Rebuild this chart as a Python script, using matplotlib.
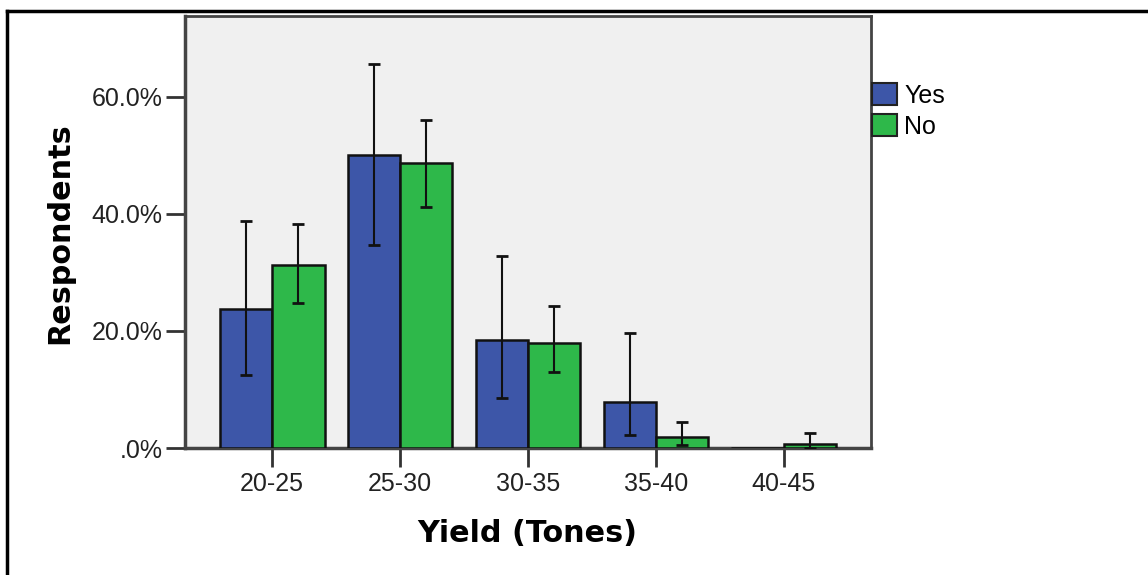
import numpy as np
import matplotlib
matplotlib.use("Agg")
import matplotlib.pyplot as plt
from matplotlib.lines import Line2D
from matplotlib.patches import Patch

# --- data ---
categories = ["20-25", "25-30", "30-35", "35-40", "40-45"]
yes_pct = [23.8, 50.1, 18.5, 7.9, 0.0]
no_pct = [31.2, 48.7, 18.0, 1.8, 0.6]
# error bar ends (low, high)
yes_low = [12.5, 34.7, 8.5, 2.2, np.nan]
yes_high = [38.8, 65.6, 32.8, 19.6, np.nan]
no_low = [24.7, 41.2, 12.9, 0.5, 0.0]
no_high = [38.3, 56.1, 24.2, 4.5, 2.5]
yticks = [0, 20, 40, 60]
ytick_labels = [".0%", "20.0%", "40.0%", "60.0%"]

BLUE = "#3d56a8"
GREEN = "#2eb84a"

plt.rcParams["font.family"] = ["Liberation Sans", "DejaVu Sans"]

fig = plt.figure(figsize=(11.48, 5.75), dpi=100)
ax = fig.add_axes([185 / 1148, 127 / 575, 686 / 1148, 432 / 575])
ax.set_facecolor("#f0f0f0")

x = np.arange(len(categories))
w = 0.41

yes_err = [np.array(yes_pct) - np.array(yes_low), np.array(yes_high) - np.array(yes_pct)]
no_err = [np.array(no_pct) - np.array(no_low), np.array(no_high) - np.array(no_pct)]

ax.bar(x - w / 2, yes_pct, w, color=BLUE, edgecolor="#111111", linewidth=1.8, zorder=3)
ax.bar(x + w / 2, no_pct, w, color=GREEN, edgecolor="#111111", linewidth=1.8, zorder=3)
ax.errorbar(x - w / 2, yes_pct, yerr=yes_err, fmt="none", ecolor="#111111",
            elinewidth=1.5, capsize=4.5, capthick=2, zorder=4)
ax.errorbar(x + w / 2, no_pct, yerr=no_err, fmt="none", ecolor="#111111",
            elinewidth=1.5, capsize=4.5, capthick=2, zorder=4)

ax.set_xlim(-0.68, 4.68)
ax.set_ylim(0, 73.8)
ax.set_xticks(x)
ax.set_xticklabels(categories)
ax.set_yticks(yticks)
ax.set_yticklabels(ytick_labels)
ax.tick_params(axis="both", labelsize=18, labelcolor="#222222", length=14,
               width=2, color="#333333")
ax.tick_params(axis="y", pad=2)

for s in ax.spines.values():
    s.set_color("#444444")
    s.set_linewidth(2)
ax.spines["left"].set_linewidth(2.5)
ax.spines["bottom"].set_linewidth(2.5)

fig.text(60 / 1148, 1 - 233 / 575, "Respondents", rotation=90, ha="center", va="center",
         fontsize=21.8, fontweight="bold", family="DejaVu Sans")
fig.text(527 / 1148, 1 - 534 / 575, "Yield (Tones)", ha="center", va="center",
         fontsize=21.8, fontweight="bold", family="DejaVu Sans")

handles = [Patch(facecolor=BLUE, edgecolor="#222222", linewidth=1.5),
           Patch(facecolor=GREEN, edgecolor="#222222", linewidth=1.5)]
fig.legend(handles, ["Yes", "No"], loc="upper left", bbox_to_anchor=(872 / 1148, 1 - 83 / 575),
           frameon=False, fontsize=18, handlelength=1.0, handleheight=1.0,
           handletextpad=0.3, labelspacing=0.25, borderpad=0, borderaxespad=0)

# outer frame (top and left only visible)
fig.add_artist(Line2D([7 / 1148, 1], [1 - 11 / 575, 1 - 11 / 575], color="black", lw=2.5,
                      transform=fig.transFigure))
fig.add_artist(Line2D([7 / 1148, 7 / 1148], [0, 1 - 11 / 575], color="black", lw=2.5,
                      transform=fig.transFigure))

fig.savefig("out.png", dpi=100)
